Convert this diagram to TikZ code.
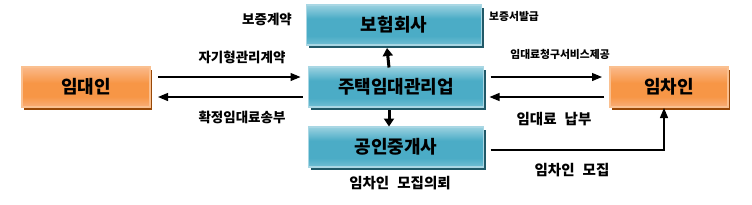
\documentclass[tikz,border=0pt]{standalone}
\usepackage{fontspec}
\setmainfont{Noto Sans CJK KR}
\usetikzlibrary{arrows.meta,shadows}
\definecolor{btop}{HTML}{9AD1E0}
\definecolor{bmid}{HTML}{4BACC6}
\definecolor{bbot}{HTML}{72BED3}
\definecolor{bline}{HTML}{A9D7E4}
\definecolor{bshad}{HTML}{215968}
\definecolor{otop}{HTML}{FAB98A}
\definecolor{omid}{HTML}{F79646}
\definecolor{obot}{HTML}{F9AE78}
\definecolor{oline}{HTML}{FAC090}
\definecolor{oshad}{HTML}{984807}
\pgfdeclareverticalshading{blueshade}{100bp}{color(0bp)=(bbot); color(25bp)=(bbot); color(36bp)=(bmid); color(58bp)=(bmid); color(75bp)=(btop); color(100bp)=(btop)}
\pgfdeclareverticalshading{orangeshade}{100bp}{color(0bp)=(obot); color(25bp)=(obot); color(38bp)=(omid); color(55bp)=(omid); color(75bp)=(otop); color(100bp)=(otop)}
\begin{document}
\begin{tikzpicture}[x=1pt,y=-1pt,
  box/.style={rectangle,minimum height=40pt,inner sep=0pt,outer sep=0pt,line width=1.2pt,
    font=\fontsize{18}{18}\selectfont\bfseries},
  bluebox/.style={box,minimum width=175pt,draw=bline,shading=blueshade,
    general shadow={fill=bshad,shadow xshift=2pt,shadow yshift=-3pt}},
  orangebox/.style={box,draw=oline,shading=orangeshade,
    general shadow={fill=oshad,shadow xshift=2pt,shadow yshift=-3pt}},
  thin/.style={line width=1.2pt,-{Triangle[length=10pt,width=8pt]}},
  thick/.style={line width=3pt,-{Triangle[length=8pt,width=10pt]}},
  lab/.style={inner sep=0pt,font=\fontsize{13.5}{13.5}\selectfont\bfseries},
  slab/.style={inner sep=0pt,font=\fontsize{10.8}{10.8}\selectfont\bfseries},
  blab/.style={inner sep=0pt,font=\fontsize{14.5}{14.5}\selectfont\bfseries}]
\useasboundingbox (0,0) rectangle (752,204);
\node[orangebox,minimum width=128pt] (ld) at (86,87) {임대인};
\node[orangebox,minimum width=118pt] (ic) at (669,87) {임차인};
\node[bluebox] (bh) at (394,25) {보험회사};
\node[bluebox] (jt) at (396,87) {주택임대관리업};
\node[bluebox] (gj) at (396,147) {공인중개사};
% arrows
\draw[thin] ([xshift=8pt,yshift=10pt]ld.east) -- ([xshift=-8pt,yshift=10pt]jt.west);
\draw[thin] ([xshift=-6pt,yshift=-10pt]jt.west) -- ([xshift=8pt,yshift=-10pt]ld.east);
\draw[thin] ([xshift=7pt,yshift=10pt]jt.east) -- ([xshift=-8pt,yshift=10pt]ic.west);
\draw[thin] ([xshift=-6pt,yshift=-10pt]ic.west) -- ([xshift=6pt,yshift=-10pt]jt.east);
\draw[thick] ([xshift=-7pt,yshift=-0.5pt]jt.north) -- ([xshift=-7pt,yshift=-3pt]bh.south);
\draw[thick] ([xshift=-7pt,yshift=-3pt]jt.south) -- ([xshift=-7pt,yshift=0.5pt]gj.north);
\coordinate (cn) at ([xshift=-5pt]ic.south);
\draw[thin] ([xshift=7pt,yshift=-3pt]gj.east) -| ([yshift=-1pt]cn);
% labels
\node[lab] (t1) at (267,19) {보증계약};
\node[slab,anchor=west] (t2) at (489,16) {보증서발급};
\node[lab] (t3) at (242,57) {자기형관리계약};
\node[lab] (t4) at (242,117) {확정임대료송부};
\node[slab] (t5) at (560,54) {임대료청구서비스제공};
\node[blab] (t6) at (554,119) {임대료\hspace{8pt}납부};
\node[blab] (t7) at (572,170) {임차인\hspace{8pt}모집};
\node[blab] (t8) at (400,183) {임차인\hspace{8pt}모집의뢰};
\end{tikzpicture}
\end{document}
